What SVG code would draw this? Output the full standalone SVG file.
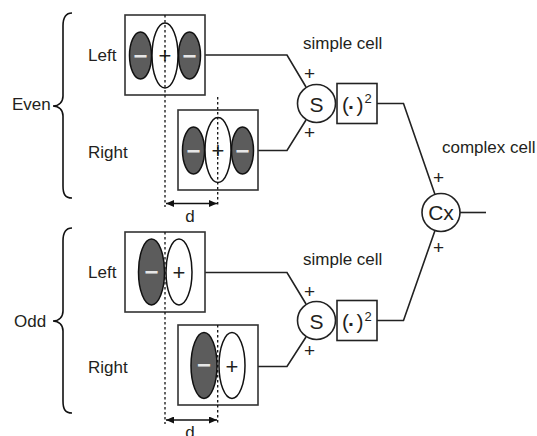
<svg xmlns="http://www.w3.org/2000/svg" width="537" height="436" viewBox="0 0 537 436">
  <style>
    text { font-family: "Liberation Sans", Arial, sans-serif; fill: #231f20; }
    .lbl { font-size: 17px; }
    .sym { font-size: 21px; text-anchor: middle; }
    .sgn { font-size: 19px; text-anchor: middle; }
    .op { font-size: 21px; }
    .dot { font-weight: bold; }
    .sup { font-size: 13px; }
    .box { fill: #fff; stroke: #333; stroke-width: 1.6; }
    .dark { fill: #5c5c5c; stroke: #111; stroke-width: 1.5; }
    .light { fill: #fff; stroke: #111; stroke-width: 1.5; }
    .neg { font-size: 24px; font-weight: bold; text-anchor: middle; fill: #e6e6e6; }
    .pos { font-size: 22px; text-anchor: middle; }
    .wire { fill: none; stroke: #222; stroke-width: 1.6; }
    .brace { fill: none; stroke: #111; stroke-width: 1.6; }
    .guide { fill: none; stroke: #111; stroke-width: 1.3; stroke-dasharray: 2.5 2.5; }
    .dim { fill: none; stroke: #111; stroke-width: 1.4; }
    .unit { fill: #fff; stroke: #222; stroke-width: 1.6; }
  </style>
  <defs>
    <marker id="tip" viewBox="0 0 8 7" refX="8" refY="3.5" markerWidth="8" markerHeight="7" markerUnits="userSpaceOnUse" orient="auto-start-reverse">
      <path d="M0,0 L8,3.5 L0,7 Z" fill="#111"/>
    </marker>
  </defs>

  <!-- group labels and braces -->
  <g id="even-group">
    <path class="brace" d="M72,13 C65,13 63,18 63,26 L63,96 C63,102 59,106 53,106 C59,106 63,110 63,116 L63,186 C63,194 65,198 72,198"/>
    <text class="lbl" x="12" y="110">Even</text>
    <text class="lbl" x="88" y="61">Left</text>
    <text class="lbl" x="88" y="158">Right</text>
  </g>
  <g id="odd-group">
    <path class="brace" d="M72,228 C65,228 63,233 63,241 L63,311 C63,317 59,321 53,321 C59,321 63,325 63,331 L63,401 C63,409 65,413 72,413"/>
    <text class="lbl" x="14" y="327">Odd</text>
    <text class="lbl" x="88" y="278">Left</text>
    <text class="lbl" x="88" y="373">Right</text>
  </g>

  <!-- connectors -->
  <g id="connectors">
    <polyline class="wire" points="205,55 287,55 306,87"/>
    <polyline class="wire" points="258,150.5 287,150.5 306,120"/>
    <polyline class="wire" points="205,272.5 287,272.5 306,304"/>
    <polyline class="wire" points="258,366.5 287,366.5 306,337"/>
    <polyline class="wire" points="377,103.5 403.5,103.5 435,194.5"/>
    <polyline class="wire" points="377,320.5 403.5,320.5 435,230.5"/>
    <line class="wire" x1="460" y1="212.5" x2="486" y2="212.5"/>
  </g>

  <!-- receptive fields: even -->
  <g id="even-left">
    <rect class="box" x="125" y="15" width="80" height="80"/>
    <ellipse class="dark" cx="140.5" cy="55.5" rx="11" ry="23.5"/>
    <ellipse class="dark" cx="189.5" cy="55.5" rx="11" ry="23.5"/>
    <ellipse class="light" cx="165" cy="55.5" rx="13" ry="32.5"/>
    <text class="neg" x="140.5" y="63.5">−</text>
    <text class="neg" x="189.5" y="63.5">−</text>
    <text class="pos" x="165" y="63">+</text>
  </g>
  <g id="even-right">
    <rect class="box" x="178" y="110" width="80" height="80"/>
    <ellipse class="dark" cx="193.5" cy="150.5" rx="11" ry="23.5"/>
    <ellipse class="dark" cx="242.5" cy="150.5" rx="11" ry="23.5"/>
    <ellipse class="light" cx="218" cy="150" rx="13" ry="32.5"/>
    <text class="neg" x="193.5" y="158.5">−</text>
    <text class="neg" x="242.5" y="158.5">−</text>
    <text class="pos" x="218" y="158">+</text>
  </g>

  <!-- receptive fields: odd -->
  <g id="odd-left">
    <rect class="box" x="125" y="232" width="80" height="80"/>
    <ellipse class="dark" cx="151.5" cy="272" rx="13" ry="33"/>
    <ellipse class="light" cx="179" cy="272" rx="13" ry="33"/>
    <text class="neg" x="151.5" y="280">−</text>
    <text class="pos" x="179" y="280">+</text>
  </g>
  <g id="odd-right">
    <rect class="box" x="178" y="325" width="80" height="80"/>
    <ellipse class="dark" cx="204" cy="365.5" rx="13" ry="33"/>
    <ellipse class="light" cx="232" cy="365.5" rx="13" ry="33"/>
    <text class="neg" x="204" y="372.5">−</text>
    <text class="pos" x="232" y="373.5">+</text>
  </g>

  <!-- disparity guides -->
  <g id="guides">
    <line class="guide" x1="165" y1="15" x2="165" y2="207"/>
    <line class="guide" x1="217.7" y1="97" x2="217.7" y2="207"/>
    <line class="dim" x1="166" y1="203.5" x2="217" y2="203.5" marker-start="url(#tip)" marker-end="url(#tip)"/>
    <text class="lbl" x="190" y="221.5" text-anchor="middle">d</text>
    <line class="guide" x1="165" y1="232" x2="165" y2="424"/>
    <line class="guide" x1="217.7" y1="325" x2="217.7" y2="424"/>
    <line class="dim" x1="166" y1="420" x2="217" y2="420" marker-start="url(#tip)" marker-end="url(#tip)"/>
    <text class="lbl" x="190" y="437.5" text-anchor="middle">d</text>
  </g>

  <!-- simple cells -->
  <g id="simple-even">
    <text class="lbl" x="303" y="49">simple cell</text>
    <circle class="unit" cx="316.5" cy="103.5" r="19"/>
    <text class="sym" x="316.5" y="111.5">S</text>
    <text class="sgn" x="309.5" y="79.5">+</text>
    <text class="sgn" x="309.5" y="139">+</text>
  </g>
  <g id="square-even">
    <rect class="unit" x="337" y="83.5" width="40" height="40"/>
    <text class="op" x="342" y="112">(<tspan class="dot" x="348" y="113.5">·</tspan><tspan x="356.5" y="112">)</tspan></text>
    <text class="sup" x="364.5" y="103.3">2</text>
  </g>
  <g id="simple-odd">
    <text class="lbl" x="303" y="265">simple cell</text>
    <circle class="unit" cx="316.5" cy="320.5" r="19"/>
    <text class="sym" x="316.5" y="328.5">S</text>
    <text class="sgn" x="309.5" y="297.5">+</text>
    <text class="sgn" x="309.5" y="356.5">+</text>
  </g>
  <g id="square-odd">
    <rect class="unit" x="337" y="300.5" width="40" height="40"/>
    <text class="op" x="342" y="329">(<tspan class="dot" x="348" y="330.5">·</tspan><tspan x="356.5" y="329">)</tspan></text>
    <text class="sup" x="364.5" y="320.5">2</text>
  </g>

  <!-- complex cell -->
  <g id="complex">
    <text class="lbl" x="442" y="153">complex cell</text>
    <circle class="unit" cx="441" cy="212.5" r="19"/>
    <text class="sym" x="441" y="220">Cx</text>
    <text class="sgn" x="438.5" y="183.5">+</text>
    <text class="sgn" x="438.5" y="254">+</text>
  </g>
</svg>
